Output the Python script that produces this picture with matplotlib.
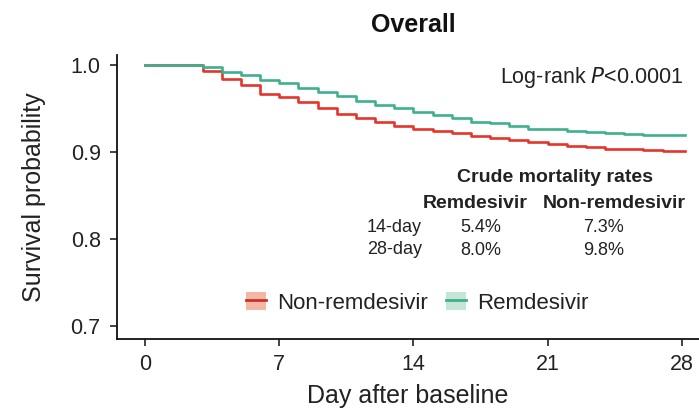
import matplotlib
matplotlib.use('Agg')
import matplotlib.pyplot as plt
from matplotlib.patches import Patch
from matplotlib.lines import Line2D
from matplotlib.legend_handler import HandlerTuple

plt.rcParams['font.family'] = ['Liberation Sans', 'DejaVu Sans']

# step times (days) and Kaplan-Meier survival after each step
days = list(range(28))
end_day = 28.15
surv_non = [1.0, 1.0, 1.0, 0.9935, 0.984, 0.977, 0.967, 0.963, 0.957, 0.950,
            0.944, 0.939, 0.935, 0.930, 0.927, 0.9245, 0.9215, 0.918, 0.916, 0.914,
            0.911, 0.909, 0.907, 0.906, 0.904, 0.903, 0.902, 0.901]
surv_rem = [1.0, 1.0, 1.0, 0.998, 0.992, 0.989, 0.983, 0.979, 0.973, 0.969,
            0.964, 0.959, 0.954, 0.950, 0.946, 0.9425, 0.939, 0.935, 0.933, 0.930,
            0.927, 0.926, 0.9245, 0.923, 0.922, 0.921, 0.920, 0.9195]

xticks = [0, 7, 14, 21, 28]
yticks = [0.7, 0.8, 0.9, 1.0]

col_rates = ['Remdesivir', 'Non-remdesivir']
row_rates = ['14-day', '28-day']
rates_rem = ['5.4%', '8.0%']
rates_non = ['7.3%', '9.8%']

red = '#e5342c'
green = '#3fb08c'
txt = '#222222'
W, H = 699, 408

fig = plt.figure(figsize=(W / 100, H / 100), dpi=100)
ax = fig.add_axes([117.3 / W, 1 - 339 / H, 1 - 117.3 / W, (339 - 55) / H])

ax.step(days + [end_day], surv_non + [surv_non[-1]], where='post', color=red, lw=1.9, zorder=3)
ax.step(days + [end_day], surv_rem + [surv_rem[-1]], where='post', color=green, lw=1.9, zorder=3)

ax.set_xlim(-1.445, 28.9)
ax.set_ylim(0.685, 1.0115)
ax.set_xticks(xticks)
ax.set_yticks(yticks)
ax.set_yticklabels(['%.1f' % v for v in yticks])
ax.tick_params(direction='out', length=5, width=1.2, labelsize=15.5, colors=txt)
ax.tick_params(axis='x', pad=6)
ax.tick_params(axis='y', pad=7)
for s in ['top', 'right']:
    ax.spines[s].set_visible(False)
for s in ['left', 'bottom']:
    ax.spines[s].set_linewidth(1.3)
    ax.spines[s].set_color('#111111')

ax.set_xlabel('Day after baseline', fontsize=18, color=txt, labelpad=6)
ax.set_ylabel('Survival probability', fontsize=18, color=txt, labelpad=18)

fig.text(413 / W, 1 - 25 / H, 'Overall', ha='center', va='center', fontsize=18,
         fontweight='bold', color='#111111')

fig.text(683 / W, 1 - 77 / H, 'Log-rank $\\mathit{P}$<0.0001', ha='right', va='center',
         fontsize=15.5, color=txt)

# crude mortality table
fig.text(555 / W, 1 - 178 / H, 'Crude mortality rates', ha='center', va='center',
         fontsize=14, fontweight='bold', color=txt)
fig.text(475.5 / W, 1 - 203 / H, col_rates[0], ha='center', va='center',
         fontsize=14, fontweight='bold', color=txt)
fig.text(614 / W, 1 - 203 / H, col_rates[1], ha='center', va='center',
         fontsize=14, fontweight='bold', color=txt)
for i, y in enumerate([227, 250]):
    fig.text(367 / W, 1 - y / H, row_rates[i], ha='left', va='center', fontsize=13, color=txt)
    fig.text(481 / W, 1 - y / H, rates_rem[i], ha='center', va='center', fontsize=13, color=txt)
    fig.text(604 / W, 1 - y / H, rates_non[i], ha='center', va='center', fontsize=13, color=txt)

h_non = (Patch(facecolor='#f3b7a3', edgecolor='none'), Line2D([], [], color='#c8302a', lw=2))
h_rem = (Patch(facecolor='#c4e6d6', edgecolor='none'), Line2D([], [], color=green, lw=2))
ax.legend([h_non, h_rem], ['Non-remdesivir', 'Remdesivir'],
          handler_map={tuple: HandlerTuple(ndivide=1, pad=0)},
          loc='center', bbox_to_anchor=(0.516, 0.127), ncol=2, frameon=False,
          fontsize=16, handlelength=0.9, handleheight=0.9, handletextpad=0.5,
          columnspacing=0.8, labelcolor=txt)

fig.savefig('out.png', dpi=100)
